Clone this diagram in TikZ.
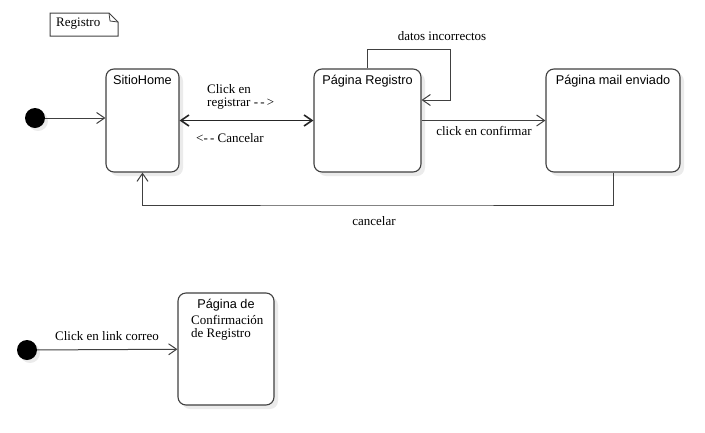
\documentclass[tikz,border=0pt]{standalone}
\usepackage{fontspec}
\setmainfont{Liberation Serif}
\setsansfont{Liberation Sans}
\usetikzlibrary{shapes,calc,arrows.meta,shadows}
\tikzstyle{every picture}+=[remember picture]
\tikzset{
  state/.style={draw=black!75, line width=1.1pt, fill=white, rounded corners=8pt,
    drop shadow={shadow xshift=4pt, shadow yshift=-4pt, fill=black!8, opacity=1},
    label={[anchor=north, yshift=-3pt, font=\sffamily\fontsize{12.7}{14}\selectfont]north:#1}},
  start/.style={circle, fill=black, minimum size=20pt, inner sep=0pt,
    drop shadow={shadow xshift=3pt, shadow yshift=-3pt, fill=black!8, opacity=1}},
  arr/.style={draw=black!75, line width=1pt, -{Straight Barb[length=8pt,width=11pt]}},
  txt/.style={font=\fontsize{13}{13.5}\selectfont, inner sep=0pt}
}

\begin{document}
\begin{tikzpicture}[x=1pt, y=-1pt]
          \useasboundingbox (0,0) rectangle (705,432);
          % note
          \node[txt, anchor=west] (nota) at (56,24) {Registro};
          \draw[black!75, line width=1pt] (50,13) -- (109,13) -- (118,22) -- (118,36) -- (50,36) -- cycle;
          \draw[black!75, line width=0.8pt] (109,13) -- (110,21) -- (118,22);
          % states
          \node[state=SitioHome, minimum width=73pt, minimum height=103pt] (home) at (142.5,120.5) {};
          \node[state=Página Registro, minimum width=107pt, minimum height=103pt] (reg) at (367.5,120.5) {};
          \node[state=Página mail enviado, minimum width=134pt, minimum height=103pt] (mail) at (613,120.5) {};
          \node[state=Página de, minimum width=96pt, minimum height=112pt] (conf) at (226,349) {};
          \node[txt, anchor=north west, align=left] (conftxt) at (191,315) {Confirmación\\de Registro};
          % initial states
          \node[start] (ini) at (35,118) {};
          \node[start] (ini2) at (27,350) {};
          \coordinate (loop) at (450,49);
          \coordinate (ret) at (376,205);
          % transitions
          \draw[arr] (ini) -- (home.west |- ini);
          \draw[draw=black!85, line width=1.6pt, {Straight Barb[length=8pt,width=11pt]}-{Straight Barb[length=8pt,width=11pt]}] (home) -- (reg);
          \node[txt, anchor=west, align=left] (lclick) at (207,97) {Click en\\registrar -\,-\,>};
          \node[txt] (lcancel) at (230,138) {<-\,- Cancelar};
          \draw[arr] (reg.north) |- (loop) |- ([yshift=20.5pt]reg.east);
          \node[txt] (ldatos) at (442,36) {datos incorrectos};
          \draw[arr] (reg) -- (mail);
          \node[txt] (lconf) at (484,131) {click en confirmar};
          \draw[arr] (mail.south) |- (ret) -| (home.south);
          \node[txt] (lcanc2) at (374,221) {cancelar};
          \draw[arr] (ini2) -- (conf);
          \node[txt] (llink) at (107,336) {Click en link correo};
        \end{tikzpicture}
\end{document}
